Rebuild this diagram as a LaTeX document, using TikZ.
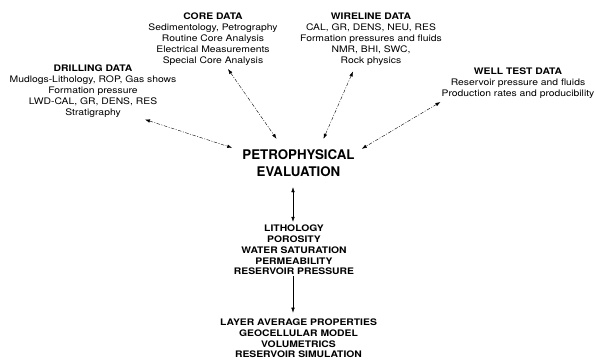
\documentclass[tikz,border=0pt]{standalone}
\usepackage{fontspec}
\setmainfont[FakeStretch=1.15]{TeX Gyre Heros}
\newfontfamily\plainheros{TeX Gyre Heros}
\usetikzlibrary{arrows.meta}

\begin{document}
\begin{tikzpicture}[x=1pt, y=-1pt,
	>={Latex[width=3.5pt,length=5pt]},
    databox/.style = {align=center, inner sep=0pt,
                      font=\fontsize{9}{11}\selectfont},
    resultbox/.style = {databox, font=\fontsize{9}{10.8}\selectfont\bfseries},
    mainbox/.style = {align=center, inner sep=0pt,
                      font=\plainheros\fontsize{13.3}{17}\selectfont\bfseries},
    dashdot/.style = {thin, dash pattern=on 3.5pt off 1.5pt on 1pt off 1.5pt}]
  \useasboundingbox (0,0) rectangle (595,360);
  \node (core) [databox] at (213,39.5) {\textbf{CORE DATA}\\Sedimentology, Petrography\\Routine Core Analysis\\Electrical Measurements\\Special Core Analysis};
  \node (drill) [databox] at (93,91) {\textbf{DRILLING DATA}\\Mudlogs-Lithology, ROP, Gas shows\\Formation pressure\\LWD-CAL, GR, DENS, RES\\Stratigraphy};
  \node (wire) [databox] at (371,39) {\textbf{WIRELINE DATA}\\CAL, GR, DENS, NEU, RES\\Formation pressures and fluids\\NMR, BHI, SWC,\\Rock physics};
  \node (well) [databox] at (518,83.5) {\textbf{WELL TEST DATA}\\Reservoir pressure and fluids\\Production rates and producibility};
  \node (petro) [mainbox] at (298.5,163.5) {PETROPHYSICAL\\EVALUATION};
  \node (props) [resultbox] at (294,250) {LITHOLOGY\\POROSITY\\WATER SATURATION\\PERMEABILITY\\RESERVOIR PRESSURE};
  \node (model) [resultbox] at (298.5,338.5) {LAYER AVERAGE PROPERTIES\\GEOCELLULAR MODEL\\VOLUMETRICS\\RESERVOIR SIMULATION};

  \path[<->,dashdot]
	([xshift=52pt,yshift=-2pt]drill.south) edge ([xshift=-10pt,yshift=2pt]petro.north west)
	([xshift=15pt,yshift=-3pt]core.south) edge ([xshift=-22pt,yshift=11pt]petro.north)
	([xshift=-18pt,yshift=-6pt]wire.south) edge ([xshift=25pt,yshift=11pt]petro.north)
	([xshift=-1pt,yshift=-3pt]well.south west) edge ([xshift=7pt,yshift=1pt]petro.north east);

  \path[<->,thin]
	([xshift=-5.5pt,yshift=-10pt]petro.south) edge ([xshift=-1pt,yshift=3pt]props.north);
  \path[->,thin]
	([xshift=-1pt,yshift=-1pt]props.south) edge ([xshift=-5.5pt,yshift=6pt]model.north);
\end{tikzpicture}
\end{document}
